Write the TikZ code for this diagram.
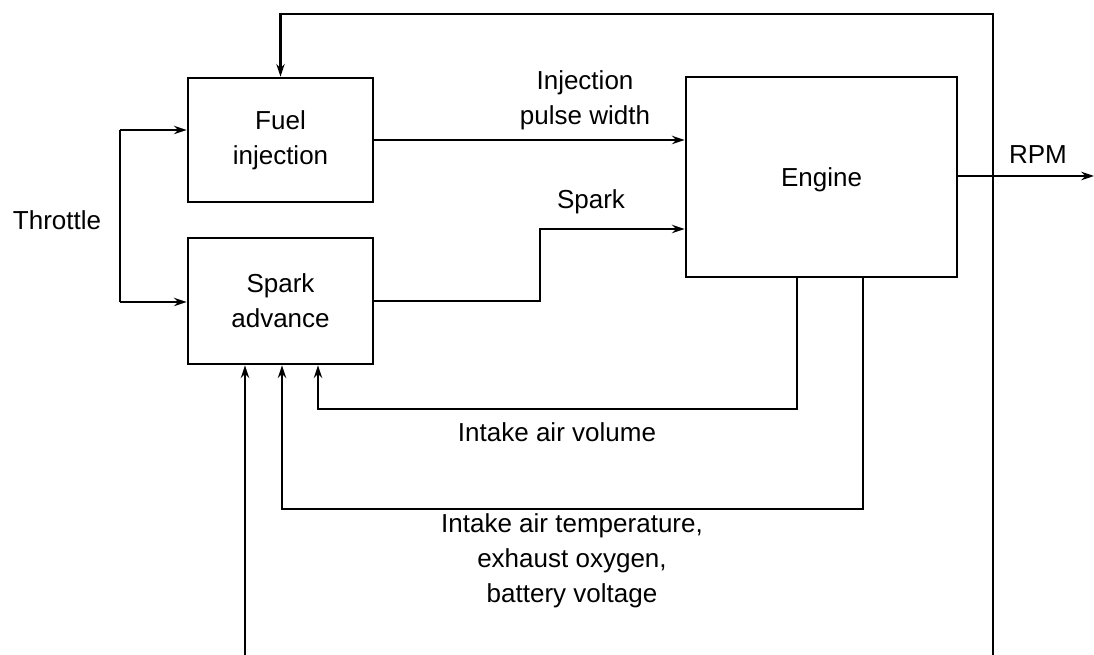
\documentclass[tikz,border=0pt]{standalone}
\usepackage{fontspec}
\setmainfont{Liberation Sans}
\usetikzlibrary{arrows.meta}
\tikzset{
  blk/.style={draw, line width=2pt, align=center, inner sep=0pt, font=\fontsize{18.5}{25}\selectfont},
  lbl/.style={align=center, inner sep=0pt, font=\fontsize{18.5}{25}\selectfont},
  wire/.style={line width=2pt},
  arr/.style={line width=2pt, -{Stealth[length=9pt,width=6pt]}}
}
\begin{document}
\begin{tikzpicture}[x=0.025cm,y=-0.025cm]
\useasboundingbox (0,0) rectangle (1094,655);
% blocks
\node[blk, minimum width=185*0.025cm, minimum height=124*0.025cm] (fuel) at (280.5,140) {Fuel\\injection};
\node[blk, minimum width=185*0.025cm, minimum height=126*0.025cm] (spark) at (280.5,301) {Spark\\advance};
\node[blk, minimum width=271*0.025cm, minimum height=200*0.025cm, text depth=-0.25cm] (engine) at (821.5,177) {Engine};
% labels
\node[lbl] (thr) at (57,220) {Throttle};
\node[lbl] (ipw) at (585,100) {Injection\\pulse width};
\node[lbl] (spk) at (591,202) {Spark};
\node[lbl] (rpm) at (1038,155) {RPM};
\node[lbl] (iav) at (557,432) {Intake air volume};
\node[lbl] (iat) at (572,561) {Intake air temperature,\\exhaust oxygen,\\battery voltage};
% coordinates
\coordinate (thT) at (120,130);
\coordinate (thB) at (120,302);
\coordinate (spB) at (540,229);
\coordinate (rpmE) at (1094,176);
\coordinate (fbR) at (993,655);
\coordinate (fbT) at (993,14);
\coordinate (bL) at (245,655);
\coordinate (iv) at (797,409);
\coordinate (ivL) at (318,409);
\coordinate (it) at (863,509);
\coordinate (itL) at (282,509);
% throttle
\draw[wire] (thB) -- (thT);
\draw[arr] (thT) -- (fuel.west |- thT);
\draw[arr] (thB) -- (spark.west |- thB);
% fuel to engine
\draw[arr] (fuel.east) -- (engine.west |- fuel.east);
% spark to engine
\draw[arr] (spark.east) -| (spB) -- (engine.west |- spB);
% rpm
\draw[arr] (engine.east |- rpmE) -- (rpmE);
% top feedback
\draw[arr] (fbR) |- (fuel.north |- fbT) -- (fuel.north);
% bottom feedback
\draw[arr] (bL) -- (spark.south -| bL);
% intake air volume
\draw[arr] (engine.south -| iv) -- (iv) -- (ivL) -- (spark.south -| ivL);
% intake air temperature
\draw[arr] (engine.south -| it) -- (it) -- (itL) -- (spark.south -| itL);
\end{tikzpicture}
\end{document}
